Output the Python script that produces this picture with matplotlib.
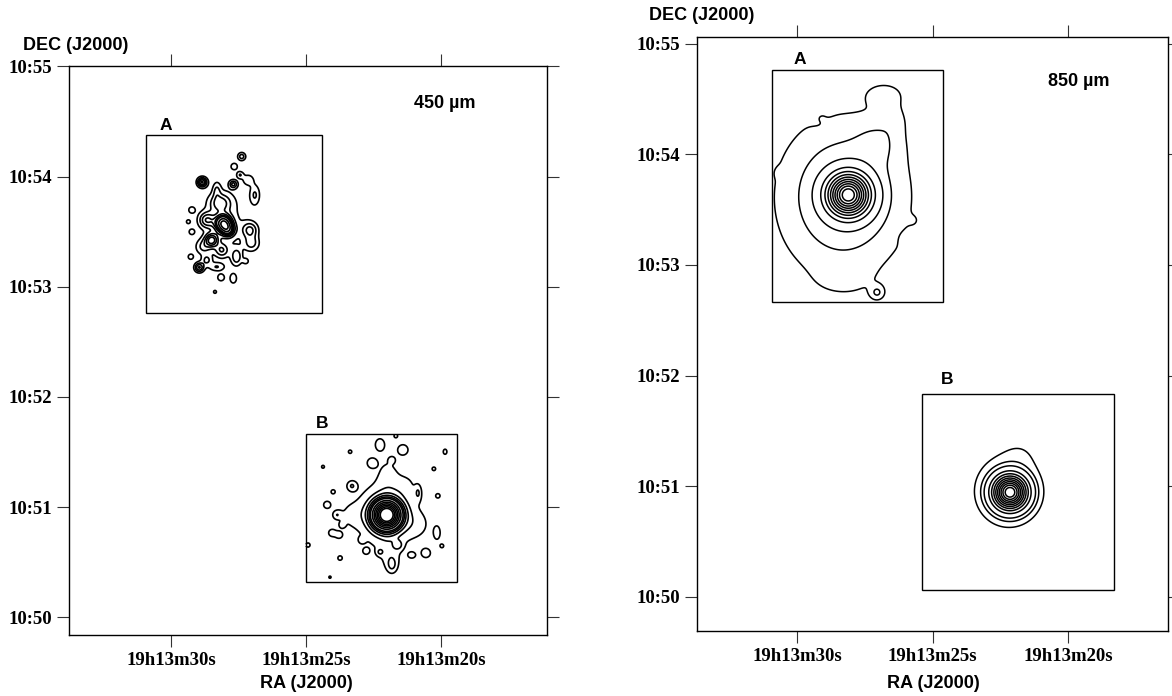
import numpy as np
import matplotlib.pyplot as plt
from matplotlib.patches import Rectangle

plt.rcParams["font.family"] = ["Liberation Sans", "DejaVu Sans"]

# RA in seconds past 19h13m, Dec in arcmin past +10 deg
COS_DEC = np.cos(np.deg2rad(10.89))

ra_ticks = [30, 25, 20]
ra_labels = ["19h13m30s", "19h13m25s", "19h13m20s"]
dec_ticks = [50, 51, 52, 53, 54, 55]
dec_labels = ["10:50", "10:51", "10:52", "10:53", "10:54", "10:55"]

# map coverage: (ra east edge, ra west edge, dec south, dec north)
box_a_450 = (30.935, 24.418, 52.759, 54.377)
box_b_450 = (25.00, 19.41, 50.318, 51.661)
box_a_850 = (30.946, 24.605, 52.668, 54.765)
box_b_850 = (25.40, 18.30, 50.059, 51.833)

# reference positions of the two sources (ra s, dec arcmin)
centre_a_450 = (27.97, 53.56)
centre_b_450 = (22.01, 50.93)
centre_a_850 = (28.115, 53.634)
centre_b_850 = (22.14, 50.943)

# emission components: dx (arcsec, +west), dy (arcsec, +north), peak, sigma_x, sigma_y
comps_a_450 = [
    (0.0, 2.0, 1.2, 9.0, 15.0),
    (-1.5, 1.0, 9.0, 3.0, 3.0),
    (1.1, -2.7, 5.0, 2.5, 2.5),
    (-10.5, 2.7, 3.5, 3.0, 3.0),
    (-3.3, 11.9, 3.0, 4.0, 3.5),
    (-7.8, -8.2, 5.0, 2.5, 2.5),
    (-12.4, -11.9, 2.0, 3.0, 3.0),
    (5.8, -17.3, 2.5, 2.0, 3.2),
    (-2.3, -13.7, 2.5, 2.5, 2.5),
    (-10.5, -19.1, 2.0, 2.0, 2.0),
    (15.8, 16.4, 2.0, 2.0, 4.0),
    (13.1, -2.7, 3.0, 3.0, 3.0),
    (14.0, -10.0, 2.2, 3.0, 3.0),
    (-5.0, 19.0, 1.6, 1.5, 3.0),
    (8.6, 37.3, 2.5, 1.6, 1.6),
    (4.5, 31.9, 1.5, 1.6, 1.6),
    (7.7, 27.3, 1.8, 1.4, 1.4),
    (12.2, 24.6, 1.6, 2.2, 2.2),
    (-13.0, 23.3, 5.0, 1.8, 1.8),
    (4.0, 22.2, 3.0, 1.5, 1.5),
    (-18.7, 8.2, 1.5, 1.6, 1.6),
    (-20.6, 1.8, 1.3, 1.2, 1.2),
    (-18.7, -3.7, 1.5, 1.4, 1.4),
    (-19.3, -17.3, 1.4, 1.5, 1.5),
    (10.9, -19.7, 1.3, 1.3, 1.3),
    (-14.6, -23.1, 4.0, 1.8, 1.8),
    (-5.1, -22.8, 1.8, 3.0, 1.6),
    (-2.7, -28.6, 1.6, 1.6, 1.6),
    (4.0, -29.1, 1.7, 1.5, 2.2),
    (-6.0, -36.4, 1.2, 1.2, 1.2),
]

comps_b_450 = [
    (0.0, 0.0, 20.0, 5.0, 5.0),
    (0.0, 0.0, 1.5, 10.0, 10.0),
    (0.0, 0.0, 1.0, 16.0, 20.0),
    (0.7, 21.9, 0.8, 4.0, 7.0),
    (10.0, 16.4, 0.6, 4.0, 4.0),
    (1.8, -21.9, 0.8, 4.0, 6.0),
    (-20.0, 0.0, 0.7, 5.0, 5.0),
    (17.0, -5.5, 0.7, 5.0, 5.0),
    (-3.7, 38.3, 1.8, 2.0, 2.6),
    (8.9, 35.5, 1.8, 2.2, 2.2),
    (31.9, 34.4, 1.3, 1.3, 1.8),
    (-20.0, 34.4, 1.15, 1.3, 1.3),
    (-34.8, 26.2, 1.15, 1.3, 1.3),
    (-8.0, 28.4, 1.6, 2.0, 2.0),
    (2.9, 30.0, 1.15, 1.3, 1.3),
    (25.8, 25.1, 1.15, 1.3, 1.3),
    (-19.0, 15.8, 1.7, 2.0, 2.0),
    (-29.3, 12.6, 1.2, 1.3, 1.3),
    (17.1, 12.0, 1.5, 1.3, 3.0),
    (28.0, 10.4, 1.2, 1.3, 1.3),
    (-32.6, 5.5, 1.5, 1.8, 1.8),
    (-27.2, 0.0, 1.5, 1.8, 1.8),
    (-24.4, -5.5, 1.15, 1.3, 1.3),
    (-29.9, -9.8, 1.5, 1.7, 1.7),
    (-26.1, -10.9, 1.4, 1.6, 1.6),
    (27.5, -9.8, 1.5, 1.5, 3.0),
    (-13.5, -13.7, 1.15, 1.3, 1.3),
    (30.2, -16.9, 1.15, 1.3, 1.3),
    (-11.3, -19.7, 1.15, 1.3, 1.3),
    (6.2, -16.4, 1.5, 1.8, 1.8),
    (-3.7, -20.2, 1.3, 1.4, 1.4),
    (21.5, -20.8, 1.6, 2.0, 2.0),
    (13.8, -21.9, 1.3, 1.6, 1.3),
    (-25.5, -23.5, 1.3, 1.3, 1.3),
    (2.9, -27.3, 1.6, 2.0, 3.0),
    (-31.0, -33.9, 1.1, 1.2, 1.2),
    (-43.0, -16.4, 1.3, 1.5, 1.5),
    (5.0, 43.0, 1.2, 1.3, 1.3),
]

comps_a_850 = [
    (0.0, 0.0, 10.0, 7.2, 7.2),
    (0.0, 0.0, 0.5, 21.9, 24.6),
    (-5.6, -2.7, 0.5, 26.2, 33.9),
    (17.3, 30.0, 0.3, 9.0, 9.0),
    (20.0, 54.6, 0.35, 8.0, 5.0),
    (25.5, 42.0, 0.2, 5.0, 6.0),
    (-1.9, -46.4, 0.15, 11.0, 5.5),
    (15.7, -53.0, 0.5, 2.7, 2.7),
    (-36.8, 12.0, 0.15, 2.0, 2.0),
    (36.0, -14.0, 0.08, 2.5, 2.5),
    (32.5, -31.0, 0.08, 2.5, 2.5),
    (-15.0, 42.0, 0.06, 3.0, 3.0),
    (-14.4, 38.3, -0.07, 4.0, 4.0),
    (30.0, -23.0, -0.05, 3.0, 3.0),
]

comps_b_850 = [
    (0.0, 0.0, 10.5, 6.0, 6.0),
    (-1.6, 1.6, 0.45, 16.0, 18.0),
    (6.0, 20.0, 0.12, 7.0, 7.0),
]

levels_450 = [1, 2, 3, 4, 5, 6, 8, 10, 12, 14, 16, 18]
levels_850 = [0.3, 0.6, 1.0, 2, 3, 4, 5, 6, 7, 8, 9, 10]


def sky_map(box, centre, comps, step=0.4):
    ra_e, ra_w, dec_s, dec_n = box
    ra0, dec0 = centre
    xs = np.arange((ra0 - ra_e) * 15 * COS_DEC, (ra0 - ra_w) * 15 * COS_DEC, step)
    ys = np.arange((dec_s - dec0) * 60, (dec_n - dec0) * 60, step)
    X, Y = np.meshgrid(xs, ys)
    Z = np.zeros_like(X)
    for dx, dy, amp, sx, sy in comps:
        Z += amp * np.exp(-0.5 * (((X - dx) / sx) ** 2 + ((Y - dy) / sy) ** 2))
    return ra0 - X / (15 * COS_DEC), dec0 + Y / 60, Z


def draw_box(ax, box, name, label_pos):
    ra_e, ra_w, dec_s, dec_n = box
    ax.add_patch(Rectangle((ra_w, dec_s), ra_e - ra_w, dec_n - dec_s,
                           fill=False, ec="black", lw=1.0))
    ax.text(label_pos[0], label_pos[1], name, ha="center", va="bottom",
            fontsize=12.5, fontweight="bold")


def style_axes(ax, xlim, ylim):
    ax.set_xlim(*xlim)
    ax.set_ylim(*ylim)
    ax.set_xticks(ra_ticks)
    ax.set_xticklabels(ra_labels)
    ax.set_yticks(dec_ticks)
    ax.set_yticklabels(dec_labels)
    ax.tick_params(direction="out", length=8.5, width=0.8, pad=4,
                   top=True, right=True, color="#333333")
    for lab in ax.get_xticklabels() + ax.get_yticklabels():
        lab.set_family("Liberation Serif")
        lab.set_fontweight("bold")
        lab.set_fontsize(13.5)
    for s in ax.spines.values():
        s.set_linewidth(1.0)


fig = plt.figure(figsize=(11.72, 6.96), dpi=100)

# 450 micron panel
ax1 = fig.add_axes([0.05913, 0.08836, 0.40794, 0.81638])
for box, centre, comps in [(box_a_450, centre_a_450, comps_a_450),
                           (box_b_450, centre_b_450, comps_b_450)]:
    ra, dec, z = sky_map(box, centre, comps)
    ax1.contour(ra, dec, z, levels=levels_450, colors="black", linewidths=1.2)
draw_box(ax1, box_a_450, "A", (30.19, 54.395))
draw_box(ax1, box_b_450, "B", (24.41, 51.69))
style_axes(ax1, (33.78, 16.05), (49.845, 55.0))
ax1.text(0.72, 0.935, "450 \u00b5m", transform=ax1.transAxes,
         fontsize=13, fontweight="bold", va="center")

# 850 micron panel
ax2 = fig.add_axes([0.59488, 0.09368, 0.40196, 0.85316])
for box, centre, comps in [(box_a_850, centre_a_850, comps_a_850),
                           (box_b_850, centre_b_850, comps_b_850)]:
    ra, dec, z = sky_map(box, centre, comps)
    ax2.contour(ra, dec, z, levels=levels_850, colors="black", linewidths=1.1)
draw_box(ax2, box_a_850, "A", (29.90, 54.79))
draw_box(ax2, box_b_850, "B", (24.47, 51.90))
style_axes(ax2, (33.70, 16.29), (49.69, 55.063))
ax2.text(0.745, 0.925, "850 \u00b5m", transform=ax2.transAxes,
         fontsize=13, fontweight="bold", va="center")

# axis titles
fig.text(23 / 1172, 1 - 45 / 696, "DEC (J2000)", fontsize=13,
         fontweight="bold", va="center")
fig.text(649 / 1172, 1 - 15 / 696, "DEC (J2000)", fontsize=13,
         fontweight="bold", va="center")
fig.text(306 / 1172, 1 - 683 / 696, "RA (J2000)", fontsize=13,
         fontweight="bold", ha="center", va="center")
fig.text(933 / 1172, 1 - 683 / 696, "RA (J2000)", fontsize=13,
         fontweight="bold", ha="center", va="center")

fig.savefig("out.png", dpi=100)
